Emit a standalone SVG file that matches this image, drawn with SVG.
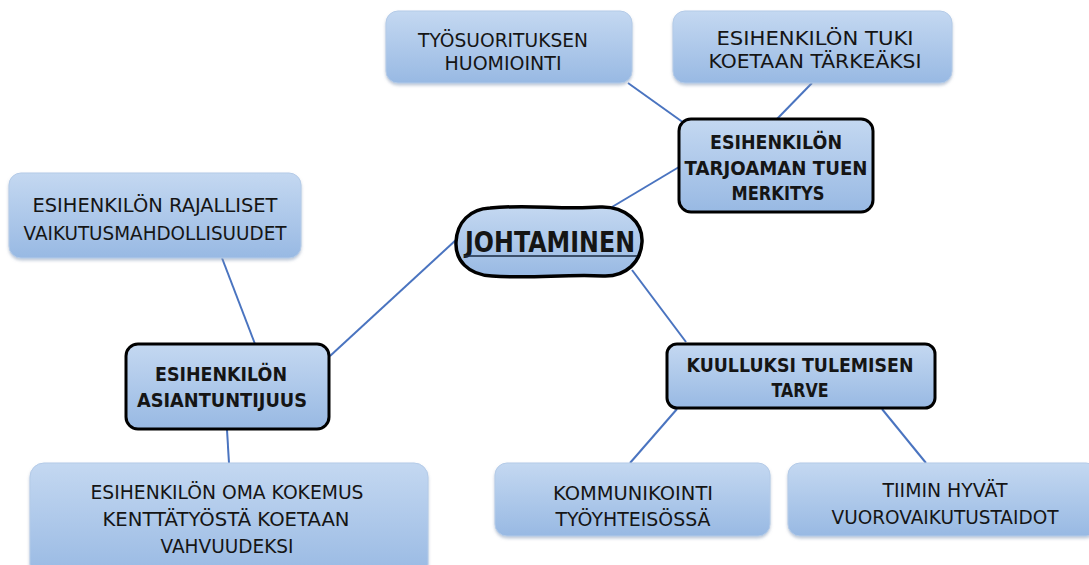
<svg xmlns="http://www.w3.org/2000/svg" width="1089" height="565" viewBox="0 0 1089 565">
<defs>
<linearGradient id="g" x1="0" y1="0" x2="0" y2="1">
<stop offset="0" stop-color="#c4d8f1"/>
<stop offset="1" stop-color="#98b9e3"/>
</linearGradient>
<filter id="sh" x="-10%" y="-10%" width="120%" height="130%">
<feDropShadow dx="0" dy="2" stdDeviation="1.5" flood-color="#7f93b0" flood-opacity="0.5"/>
</filter>
</defs>
<style>
.leaf{fill:url(#g);stroke:#b4cbe8;stroke-width:1;filter:url(#sh)}
.main{fill:url(#g);stroke:#000;stroke-width:3}
.t{font-family:"DejaVu Sans","Liberation Sans",sans-serif;font-size:20px;fill:#151515;text-anchor:middle}
.b{font-weight:bold;font-size:20px}
.c{stroke:#4a74c0;stroke-width:2;fill:none}
</style>
<rect width="1089" height="565" fill="#fff"/>
<g id="connectors">
<line class="c" x1="628" y1="83" x2="684" y2="123"/>
<line class="c" x1="812" y1="83" x2="777" y2="119"/>
<line class="c" x1="679" y1="167" x2="612" y2="207"/>
<line class="c" x1="457" y1="239" x2="330" y2="356"/>
<line class="c" x1="222" y1="258" x2="255" y2="344"/>
<line class="c" x1="227" y1="430" x2="229" y2="463"/>
<line class="c" x1="632" y1="270" x2="686" y2="342"/>
<line class="c" x1="677" y1="409" x2="630" y2="463"/>
<line class="c" x1="882" y1="409" x2="926" y2="463"/>
</g>
<g id="n-tyosuoritus">
<rect class="leaf" x="386" y="11" width="246" height="72" rx="12"/>
<text class="t"><tspan x="503" y="47" textLength="170" lengthAdjust="spacingAndGlyphs">TYÖSUORITUKSEN</tspan><tspan x="503" y="70" textLength="117" lengthAdjust="spacingAndGlyphs">HUOMIOINTI</tspan></text>
</g>
<g id="n-tuki">
<rect class="leaf" x="673" y="11" width="279" height="72" rx="12"/>
<text class="t"><tspan x="815" y="45" textLength="197" lengthAdjust="spacingAndGlyphs">ESIHENKILÖN TUKI</tspan><tspan x="815" y="68" textLength="213" lengthAdjust="spacingAndGlyphs">KOETAAN TÄRKEÄKSI</tspan></text>
</g>
<g id="n-tarjoaman">
<rect class="main" x="679" y="119" width="194" height="93" rx="12"/>
<text class="t b"><tspan x="776" y="149" textLength="132" lengthAdjust="spacingAndGlyphs">ESIHENKILÖN</tspan><tspan x="776" y="175" textLength="183" lengthAdjust="spacingAndGlyphs">TARJOAMAN TUEN</tspan><tspan x="778" y="200" textLength="93" lengthAdjust="spacingAndGlyphs">MERKITYS</tspan></text>
</g>
<g id="n-johtaminen">
<path d="M490 208 C530 204 560 210 600 207 C625 206 643 222 642 242 C641 262 626 277 603 276 C565 274 530 279 492 276 C468 275 455 260 456 242 C457 222 470 209 490 208 Z" fill="url(#g)" stroke="#000" stroke-width="3.5"/>
<text class="t b" x="550" y="252" style="font-size:28px" textLength="170" lengthAdjust="spacingAndGlyphs">JOHTAMINEN</text>
<line x1="464" y1="256" x2="637" y2="256" stroke="#1a2a40" stroke-width="1.5"/>
</g>
<g id="n-rajalliset">
<rect class="leaf" x="9" y="173" width="292" height="85" rx="12"/>
<text class="t"><tspan x="155" y="212" textLength="245" lengthAdjust="spacingAndGlyphs">ESIHENKILÖN RAJALLISET</tspan><tspan x="155" y="240" textLength="263" lengthAdjust="spacingAndGlyphs">VAIKUTUSMAHDOLLISUUDET</tspan></text>
</g>
<g id="n-asiantuntijuus">
<rect class="main" x="126" y="344" width="203" height="85" rx="12"/>
<text class="t b"><tspan x="221" y="381" textLength="132" lengthAdjust="spacingAndGlyphs">ESIHENKILÖN</tspan><tspan x="222" y="407" textLength="170" lengthAdjust="spacingAndGlyphs">ASIANTUNTIJUUS</tspan></text>
</g>
<g id="n-kokemus">
<rect class="leaf" x="30" y="463" width="398" height="115" rx="14"/>
<text class="t"><tspan x="227" y="499" textLength="273" lengthAdjust="spacingAndGlyphs">ESIHENKILÖN OMA KOKEMUS</tspan><tspan x="226" y="526" textLength="247" lengthAdjust="spacingAndGlyphs">KENTTÄTYÖSTÄ KOETAAN</tspan><tspan x="227" y="553" textLength="133" lengthAdjust="spacingAndGlyphs">VAHVUUDEKSI</tspan></text>
</g>
<g id="n-kuulluksi">
<rect class="main" x="667" y="344" width="268" height="64" rx="10"/>
<text class="t b"><tspan x="800" y="372" textLength="227" lengthAdjust="spacingAndGlyphs">KUULLUKSI TULEMISEN</tspan><tspan x="800" y="397" textLength="57" lengthAdjust="spacingAndGlyphs">TARVE</tspan></text>
</g>
<g id="n-kommunikointi">
<rect class="leaf" x="495" y="463" width="275" height="73" rx="12"/>
<text class="t"><tspan x="633" y="500" textLength="160" lengthAdjust="spacingAndGlyphs">KOMMUNIKOINTI</tspan><tspan x="633" y="526" textLength="155" lengthAdjust="spacingAndGlyphs">TYÖYHTEISÖSSÄ</tspan></text>
</g>
<g id="n-tiimin">
<rect class="leaf" x="788" y="463" width="310" height="73" rx="12"/>
<text class="t"><tspan x="945" y="497" textLength="125" lengthAdjust="spacingAndGlyphs">TIIMIN HYVÄT</tspan><tspan x="945" y="524" textLength="227" lengthAdjust="spacingAndGlyphs">VUOROVAIKUTUSTAIDOT</tspan></text>
</g>
</svg>
